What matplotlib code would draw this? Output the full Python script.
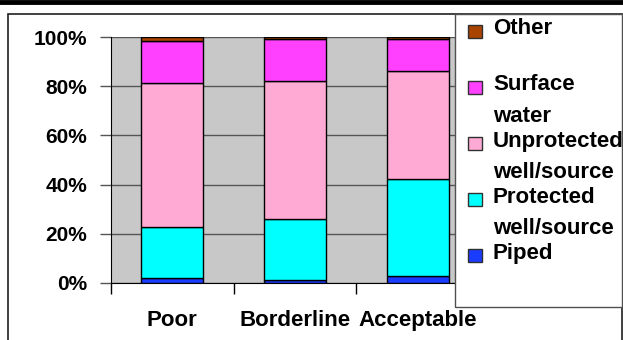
import matplotlib
matplotlib.use("Agg")
import matplotlib.pyplot as plt
from matplotlib.patches import Rectangle
from matplotlib.lines import Line2D
import numpy as np

plt.rcParams["font.family"] = ["Liberation Sans", "DejaVu Sans"]
plt.rcParams["font.weight"] = "bold"

categories = ["Poor", "Borderline", "Acceptable"]
# stacked shares (%) from bottom to top
series_names = ["Piped", "Protected\nwell/source", "Unprotected\nwell/source", "Surface\nwater", "Other"]
piped = [1.8, 1.1, 2.6]
protected = [21.0, 25.0, 39.5]
unprotected = [58.6, 56.0, 44.2]
surface = [17.0, 17.1, 12.9]
other = [1.6, 0.8, 0.8]
series_values = [piped, protected, unprotected, surface, other]
colors = ["#1A3CFF", "#00FFFF", "#FFAAD4", "#FF40FF", "#A84300"]
yticks = [0, 20, 40, 60, 80, 100]

W, H = 623, 340
fig = plt.figure(figsize=(W / 100, H / 100), dpi=100)
fig.patch.set_facecolor("white")

# outer frame and the heavy rule along the top
fig.add_artist(Line2D([0, 1], [1 - 1.5 / H, 1 - 1.5 / H], color="black", lw=3.5))
fig.add_artist(Rectangle((8 / W, -0.1), (622 - 8) / W, 1.1 - 14 / H, fill=False,
                         edgecolor="#202020", lw=1.2))

ax = fig.add_axes([111 / W, 1 - 282.7 / H, 368 / W, (282.7 - 37.3) / H])
ax.set_facecolor("#C8C8C8")

x = np.arange(len(categories))
bottom = np.zeros(len(categories))
for vals, col in zip(series_values, colors):
    ax.bar(x, vals, width=0.505, bottom=bottom, color=col, edgecolor="black",
           linewidth=1.0, zorder=3)
    bottom += np.array(vals)

ax.set_xlim(-0.5, 2.5)
ax.set_ylim(0, 100)
ax.set_yticks(yticks)
ax.set_yticklabels([f"{v}%" for v in yticks], fontsize=15, fontweight="bold")
ax.yaxis.grid(True, color="#555555", lw=1.0, zorder=0)
ax.tick_params(axis="y", length=8, width=1, color="#555555", pad=9)

ax.set_xticks([-0.5, 0.5, 1.5, 2.5])
ax.set_xticklabels([])
ax.set_xticks(x, minor=True)
ax.set_xticklabels(categories, minor=True, fontsize=16, fontweight="bold")
ax.tick_params(axis="x", which="major", length=8, width=1, color="black")
ax.tick_params(axis="x", which="minor", length=0, pad=20)

for s in ["top", "right"]:
    ax.spines[s].set_visible(False)
ax.spines["left"].set_color("black")
ax.spines["bottom"].set_color("black")

# legend box drawn over the right part of the plot
fig.add_artist(Rectangle((455 / W, 1 - 307 / H), (622 - 455) / W, (307 - 14) / H,
                         facecolor="white", edgecolor="#505050", lw=1.0, zorder=5))
top_y = 29
step = 56
for i, (name, col) in enumerate(zip(series_names[::-1], colors[::-1])):
    yc = top_y + i * step
    fig.add_artist(Rectangle((468 / W, 1 - (yc + 9) / H), 14 / W, 13 / H,
                             facecolor=col, edgecolor="#303030", lw=1.0, zorder=6))
    lines = name.split("\n")
    for j, ln in enumerate(lines):
        fig.text(493 / W, 1 - (yc + j * 31) / H, ln, fontsize=16, fontweight="bold",
                 va="center", ha="left", zorder=7)

fig.savefig("out.png", dpi=100)
